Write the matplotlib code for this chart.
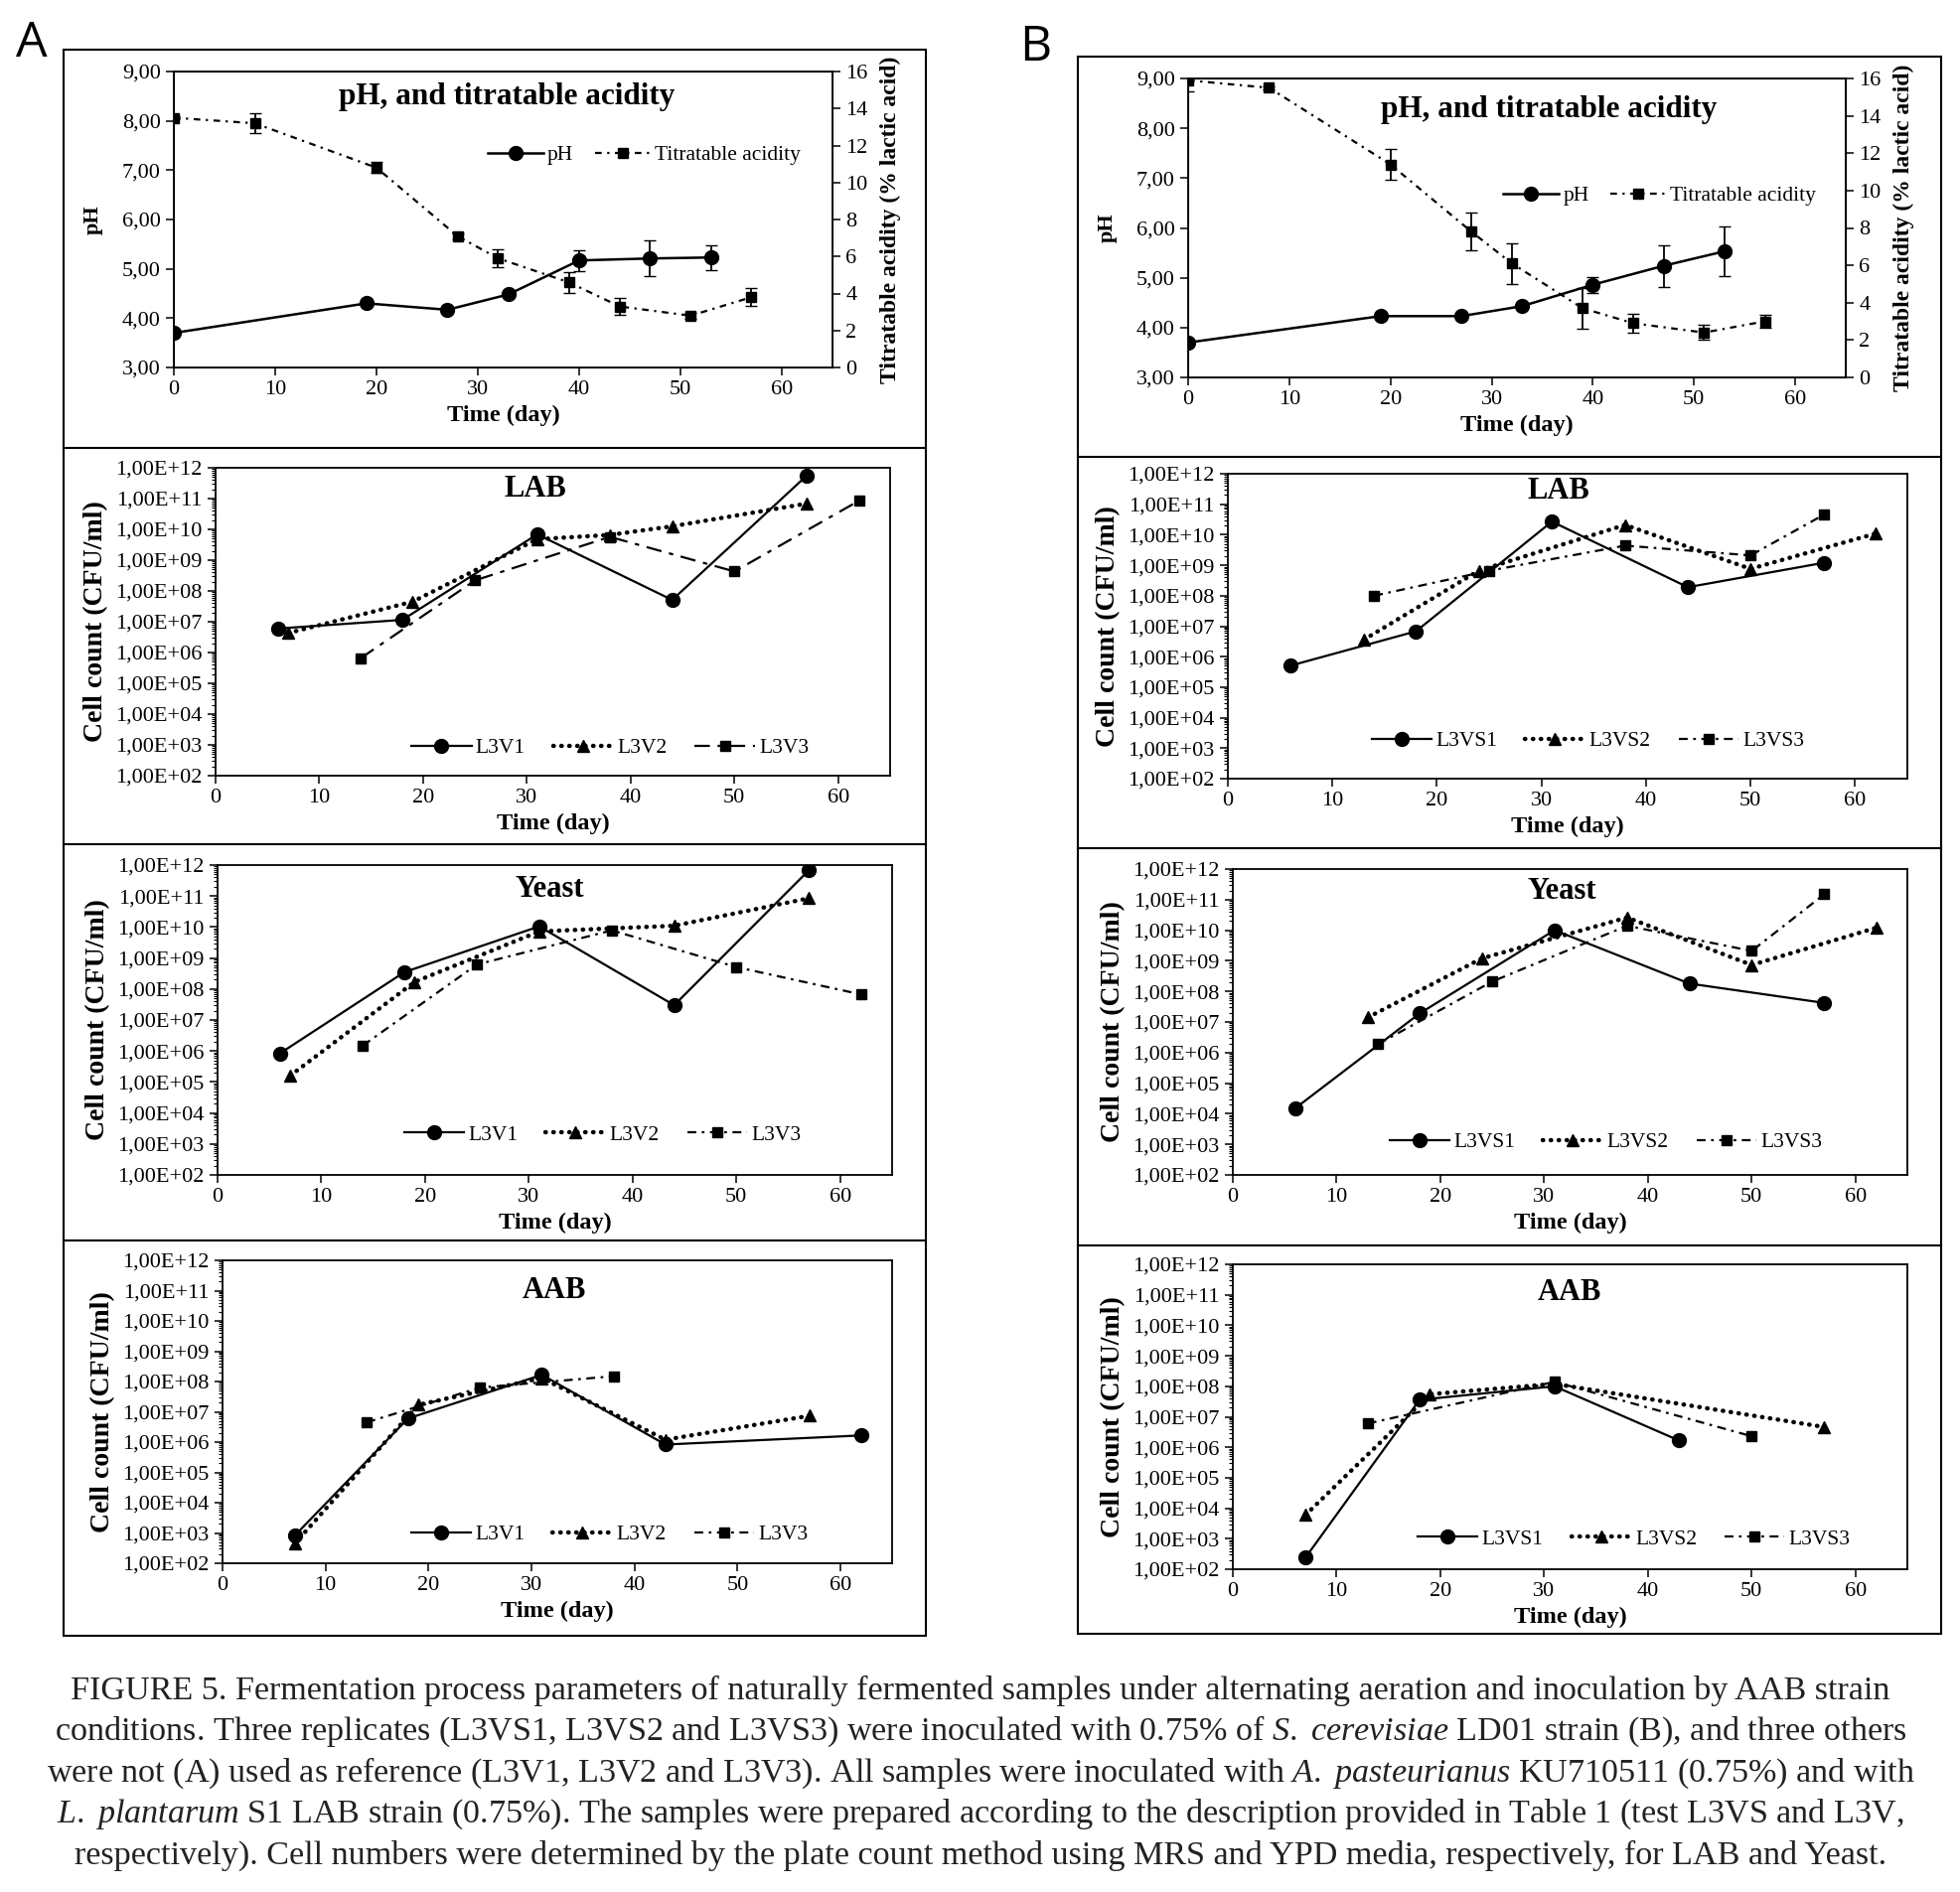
import numpy as np
import matplotlib
matplotlib.use("Agg")
import matplotlib.pyplot as plt
from matplotlib.patches import Rectangle
from matplotlib.lines import Line2D
from matplotlib.ticker import FuncFormatter, LogLocator, NullFormatter

plt.rcParams['font.family'] = ['Liberation Serif', 'DejaVu Serif']
plt.rcParams['mathtext.fontset'] = 'custom'
plt.rcParams['mathtext.rm'] = 'Liberation Serif'
plt.rcParams['mathtext.it'] = 'Liberation Serif:italic'

# ---- data ----
# pH / titratable acidity
days_ph = [0, 19, 27, 33, 40, 47, 53]
ph_A = [3.70, 4.30, 4.17, 4.48, 5.17, 5.21, 5.23]
ph_A_err = [0.03, 0.03, 0.03, 0.03, 0.21, 0.36, 0.25]
ph_B = [3.70, 4.23, 4.23, 4.43, 4.86, 5.24, 5.53]
ph_B_err = [0.02, 0.02, 0.02, 0.02, 0.16, 0.42, 0.50]

days_ta = [0, 8, 20, 28, 32, 39, 44, 51, 57]
ta_A = [13.5, 13.2, 10.8, 7.1, 5.9, 4.6, 3.3, 2.8, 3.8]
ta_A_err = [0.1, 0.55, 0.3, 0.15, 0.5, 0.58, 0.47, 0.15, 0.49]
ta_B = [15.9, 15.5, 11.4, 7.8, 6.1, 3.7, 2.9, 2.4, 3.0]
ta_B_err = [0.6, 0.1, 0.8, 1.0, 1.1, 1.1, 0.5, 0.4, 0.35]

labels_A = ["L3V1", "L3V2", "L3V3"]
labels_B = ["L3VS1", "L3VS2", "L3VS3"]

# LAB
lab_A1_d = [6, 18, 31, 44, 57];      lab_A1 = [6.0e6, 1.15e7, 6.9e9, 5.1e7, 5.7e11]
lab_A2_d = [7, 19, 31, 38, 44, 57];  lab_A2 = [4.3e6, 4.5e7, 4.8e9, 6.6e9, 1.26e10, 6.9e10]
lab_A3_d = [14, 25, 38, 50, 62];     lab_A3 = [6.6e5, 2.2e8, 5.7e9, 4.3e8, 8.5e10]
lab_B1_d = [6, 18, 31, 44, 57];      lab_B1 = [5.1e5, 6.8e6, 2.7e10, 1.9e8, 1.2e9]
lab_B2_d = [13, 24, 38, 50, 62];     lab_B2 = [3.6e6, 6.6e8, 2.1e10, 7.6e8, 1.1e10]
lab_B3_d = [14, 25, 38, 50, 57];     lab_B3 = [1.0e8, 6.6e8, 4.4e9, 2.1e9, 4.5e10]

# Yeast
yst_A1_d = [6, 18, 31, 44, 57];      yst_A1 = [8.3e5, 3.5e8, 1.05e10, 3.0e7, 6.9e11]
yst_A2_d = [7, 19, 31, 44, 57];      yst_A2 = [1.6e5, 1.7e8, 7.2e9, 1.1e10, 8.5e10]
yst_A3_d = [14, 25, 38, 50, 62];     yst_A3 = [1.5e6, 6.2e8, 7.8e9, 5.1e8, 6.7e7]
yst_B1_d = [6, 18, 31, 44, 57];      yst_B1 = [1.5e4, 1.9e7, 1.0e10, 1.8e8, 4.2e7]
yst_B2_d = [13, 24, 38, 50, 62];     yst_B2 = [1.4e7, 1.2e9, 2.6e10, 7.3e8, 1.2e10]
yst_B3_d = [14, 25, 38, 50, 57];     yst_B3 = [1.9e6, 2.1e8, 1.4e10, 2.1e9, 1.5e11]

# AAB
aab_A1_d = [7, 18, 31, 43, 62];      aab_A1 = [8.1e2, 6.0e6, 1.66e8, 8.3e5, 1.66e6]
aab_A2_d = [7, 19, 31, 43, 57];      aab_A2 = [4.4e2, 1.7e7, 1.3e8, 1.2e6, 7.4e6]
aab_A3_d = [14, 25, 38];             aab_A3 = [4.5e6, 6.3e7, 1.5e8]
aab_B1_d = [7, 18, 31, 43];          aab_B1 = [2.4e2, 3.6e7, 1.0e8, 1.66e6]
aab_B2_d = [7, 19, 31, 57];          aab_B2 = [6.0e3, 5.5e7, 1.2e8, 4.6e6]
aab_B3_d = [13, 31, 50];             aab_B3 = [6.0e6, 1.4e8, 2.3e6]

caption = [
    "FIGURE 5. Fermentation process parameters of naturally fermented samples under alternating aeration and inoculation by AAB strain",
    r"conditions. Three replicates (L3VS1, L3VS2 and L3VS3) were inoculated with 0.75% of $\mathit{S.\ cerevisiae}$ LD01 strain (B), and three others",
    r"were not (A) used as reference (L3V1, L3V2 and L3V3). All samples were inoculated with $\mathit{A.\ pasteurianus}$ KU710511 (0.75%) and with",
    r"$\mathit{L.\ plantarum}$ S1 LAB strain (0.75%). The samples were prepared according to the description provided in Table 1 (test L3VS and L3V,",
    "respectively). Cell numbers were determined by the plate count method using MRS and YPD media, respectively, for LAB and Yeast.",
]

W, H = 1974, 1905
fig = plt.figure(figsize=(W / 100, H / 100), dpi=100)


def box(l, r, t, b):
    return [l / W, 1 - b / H, (r - l) / W, (b - t) / H]


def style_axes(ax):
    for s in ax.spines.values():
        s.set_linewidth(1.3)
    ax.tick_params(direction='out', labelsize=16, length=6, width=1.1)
    ax.set_xlim(0, 65)
    ax.set_xticks(range(0, 61, 10))
    ax.set_xlabel("Time (day)", fontsize=17.5, fontweight='bold', labelpad=4)


def ph_panel(rect, ph, ph_err, ta, ta_err, title_xy, leg_xy):
    ax = fig.add_axes(box(*rect))
    ax2 = ax.twinx()
    ax.errorbar(days_ph, ph, yerr=ph_err, fmt='none', ecolor='k', elinewidth=1.3, capsize=4)
    l1, = ax.plot(days_ph, ph, color='k', lw=1.8, marker='o', ms=10, label='pH')
    ax2.errorbar(days_ta, ta, yerr=ta_err, fmt='none', ecolor='k', elinewidth=1.3, capsize=4)
    l2, = ax2.plot(days_ta, ta, color='k', lw=1.6, ls=(0, (3, 2.5, 1, 2.5)),
                   marker='s', ms=7.5, label='Titratable acidity')
    style_axes(ax)
    ax.set_ylim(3, 9)
    ax.set_yticks(np.arange(3, 9.01, 1))
    ax.yaxis.set_major_formatter(FuncFormatter(lambda v, p: f"{v:.2f}".replace('.', ',')))
    ax.set_ylabel("pH", fontsize=16, fontweight='bold', labelpad=14)
    ax2.set_ylim(0, 16)
    ax2.set_yticks(range(0, 17, 2))
    ax2.tick_params(direction='out', labelsize=16, length=6, width=1.1)
    ax2.set_ylabel("Titratable acidity (% lactic acid)", fontsize=17, fontweight='bold', labelpad=9)
    ax.text(title_xy[0], title_xy[1], "pH, and titratable acidity", transform=ax.transAxes,
            ha='center', va='center', fontsize=22.5, fontweight='bold')
    ax2.legend([l1, l2], ['pH', 'Titratable acidity'], loc='center', bbox_to_anchor=leg_xy,
               frameon=False, fontsize=15.5, ncol=2, handlelength=2.6, handletextpad=0.2,
               columnspacing=1.0)


def count_panel(rect, title, title_xy, series, labels, leg_xy, dash3):
    ax = fig.add_axes(box(*rect))
    styles = [
        dict(color='k', ls='-', lw=1.6, marker='o', ms=10),
        dict(color='k', ls=(0, (0.1, 1.7)), lw=3.2, dash_capstyle='round', marker='^', ms=9),
        dict(color='k', ls=dash3, lw=1.6, marker='s', ms=7.5),
    ]
    for (d, v), lab, st in zip(series, labels, styles):
        ax.plot(d, v, label=lab, **st)
    ax.set_yscale('log')
    ax.set_ylim(1e2, 1e12)
    style_axes(ax)
    ax.yaxis.set_major_locator(LogLocator(base=10, numticks=20))
    ax.yaxis.set_minor_locator(LogLocator(base=10, subs=np.arange(2, 10), numticks=20))
    ax.yaxis.set_minor_formatter(NullFormatter())
    ax.tick_params(which='minor', direction='out', length=3, width=0.8)
    ax.yaxis.set_major_formatter(FuncFormatter(lambda v, p: "1,00E+%02d" % int(round(np.log10(v)))))
    ax.set_ylabel("Cell count (CFU/ml)", fontsize=20, fontweight='bold', labelpad=5)
    ax.text(title_xy[0], title_xy[1], title, transform=ax.transAxes,
            ha='center', va='center', fontsize=22, fontweight='bold')
    ax.legend(loc='center', bbox_to_anchor=leg_xy, frameon=False, fontsize=15.5, ncol=3,
              handlelength=2.8, handletextpad=0.2, columnspacing=1.3)


dash_short = (0, (4, 2.5, 1.2, 2.5))
dash_long = (0, (7, 3.5, 2, 3.5))

# ---- panel A ----
ph_panel((175, 838, 72, 370), ph_A, ph_A_err, ta_A, ta_A_err, (0.505, 0.916), (0.714, 0.717))
count_panel((217, 896, 471, 781), "LAB", (0.474, 0.93),
            [(lab_A1_d, lab_A1), (lab_A2_d, lab_A2), (lab_A3_d, lab_A3)], labels_A, (0.585, 0.09), dash_long)
count_panel((219, 898, 871, 1183), "Yeast", (0.492, 0.92),
            [(yst_A1_d, yst_A1), (yst_A2_d, yst_A2), (yst_A3_d, yst_A3)], labels_A, (0.571, 0.129), dash_short)
count_panel((224, 898, 1269, 1574), "AAB", (0.495, 0.90),
            [(aab_A1_d, aab_A1), (aab_A2_d, aab_A2), (aab_A3_d, aab_A3)], labels_A, (0.578, 0.095), dash_short)

# ---- panel B ----
ph_panel((1196, 1858, 79, 380), ph_B, ph_B_err, ta_B, ta_B_err, (0.548, 0.895), (0.717, 0.607))
count_panel((1236, 1920, 477, 784), "LAB", (0.486, 0.943),
            [(lab_B1_d, lab_B1), (lab_B2_d, lab_B2), (lab_B3_d, lab_B3)], labels_B, (0.53, 0.123), dash_short)
count_panel((1241, 1920, 875, 1183), "Yeast", (0.488, 0.927),
            [(yst_B1_d, yst_B1), (yst_B2_d, yst_B2), (yst_B3_d, yst_B3)], labels_B, (0.553, 0.106), dash_short)
count_panel((1241, 1920, 1273, 1580), "AAB", (0.499, 0.906),
            [(aab_B1_d, aab_B1), (aab_B2_d, aab_B2), (aab_B3_d, aab_B3)], labels_B, (0.595, 0.098), dash_short)

# frames around the two columns
for (l, r, t, b, seps) in [(64, 932, 50, 1647, [451, 850, 1249]),
                           (1085, 1954, 57, 1645, [460, 854, 1254])]:
    fig.add_artist(Rectangle((l / W, 1 - b / H), (r - l) / W, (b - t) / H,
                             transform=fig.transFigure, fill=False, ec='k', lw=1.5))
    for y in seps:
        fig.add_artist(Line2D([l / W, r / W], [1 - y / H] * 2, transform=fig.transFigure,
                              color='k', lw=1.5))

fig.text(32 / W, 1 - 44 / H, "A", fontsize=36, family='Open Sans', ha='center', va='center')
fig.text(1042 / W, 1 - 48 / H, "B", fontsize=36, family='Open Sans', ha='center', va='center')

for i, line in enumerate(caption):
    fig.text(987 / W, 1 - (1702 + 41.5 * i) / H, line, fontsize=24.6, ha='center', va='center',
             color='#222222')

fig.savefig("out.png", dpi=100)
